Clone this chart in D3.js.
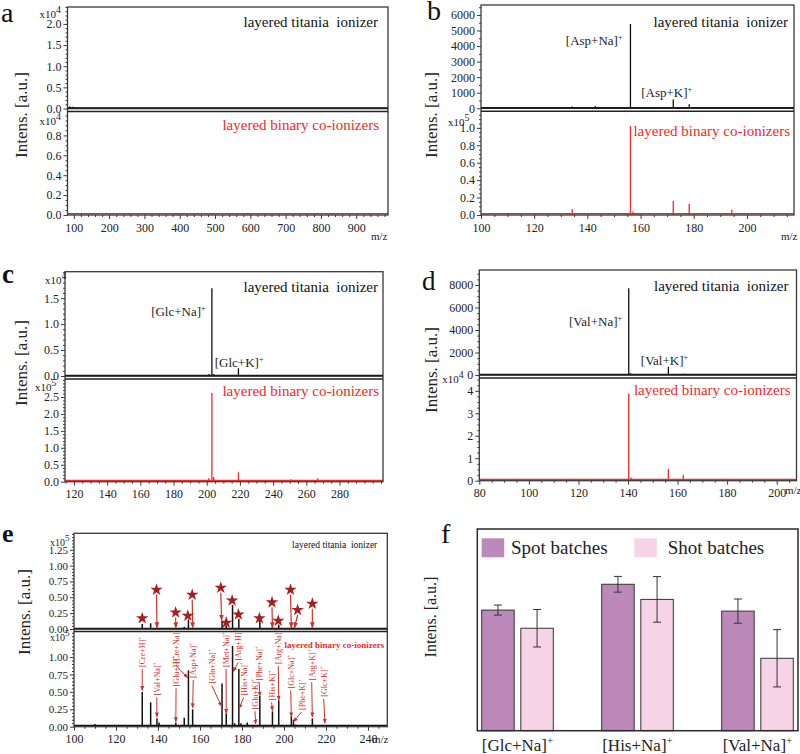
<!DOCTYPE html>
<html><head><meta charset="utf-8">
<script src="https://cdn.jsdelivr.net/npm/d3@7"></script>
<style>
body{margin:0;background:#fff;}
svg, svg text{font-family:'Liberation Serif','DejaVu Serif',serif;}
</style></head><body>
<svg id="chart" width="800" height="754"></svg>
<script>
// ================= DATA =================
// panel a (intensities in x10^4)
const aTopMz  = [88, 92, 97, 103, 110, 118, 130, 145, 250, 350, 450];
const aTopInt = [0.05, 0.03, 0.04, 0.03, 0.025, 0.02, 0.015, 0.01, 0.01, 0.01, 0.012];
const aBotMz  = [120, 160, 395, 590];
const aBotInt = [0.004, 0.004, 0.012, 0.015];
const aXTicks = [100, 200, 300, 400, 500, 600, 700, 800, 900];
const aTopTicks = [0, 0.5, 1.0, 1.5, 2.0];
const aBotTicks = [0, 0.2, 0.4, 0.6, 0.8];

// panel b (top raw counts, bottom x10^5)
const bTopMz  = [101, 106, 110, 134.3, 143, 144.5, 156.2, 157.2, 172.3, 178.3, 194.3];
const bTopInt = [70, 50, 40, 110, 140, 90, 5420, 90, 560, 260, 60];
const bBotMz  = [110, 134.3, 156.2, 157.2, 172.3, 178.3, 194.3];
const bBotInt = [0.012, 0.07, 1.02, 0.04, 0.16, 0.13, 0.06];
const bXTicks = [100, 120, 140, 160, 180, 200];
const bTopTicks = [0, 1000, 2000, 3000, 4000, 5000, 6000];
const bBotTicks = [0, 0.2, 0.4, 0.6, 0.8, 1.0];

// panel c (top x10^4, bottom x10^5)
const cTopMz  = [130, 145, 160, 185, 201.5, 203.1, 204.2, 219.1, 245, 266.9];
const cTopInt = [0.01, 0.01, 0.01, 0.01, 0.04, 1.69, 0.04, 0.15, 0.01, 0.02];
const cBotMz  = [127, 145, 159, 177, 201.2, 203.1, 204.2, 205, 219.1, 220, 237, 250.5, 252.5, 266.9];
const cBotInt = [0.02, 0.03, 0.02, 0.01, 0.1, 2.62, 0.14, 0.06, 0.28, 0.03, 0.02, 0.07, 0.03, 0.1];
const cXTicks = [120, 140, 160, 180, 200, 220, 240, 260, 280];
const cTopTicks = [0, 0.5, 1.0, 1.5];
const cBotTicks = [0, 0.5, 1.0, 1.5, 2.0, 2.5];

// panel d (top raw counts, bottom x10^4)
const dTopMz  = [95, 118.5, 140.3, 141, 144, 156.3, 162.3, 178];
const dTopInt = [40, 60, 7720, 150, 80, 730, 120, 40];
const dBotMz  = [81, 94.3, 108, 118.3, 140.3, 141.3, 144.3, 156.3, 162.3, 178.3, 195];
const dBotInt = [0.06, 0.08, 0.03, 0.07, 3.88, 0.14, 0.07, 0.52, 0.26, 0.04, 0.02];
const dXTicks = [80, 100, 120, 140, 160, 180, 200];
const dTopTicks = [0, 2000, 4000, 6000, 8000];
const dBotTicks = [0, 1, 2, 3, 4];

// panel e (x10^5)
const eTopMz  = [132.5, 136.5, 139.5, 148.5, 152.5, 154.5, 156.5, 170.5, 172.5, 175.5, 178.5, 188.5, 194.5, 197.5, 203.5, 204.5];
const eTopInt = [0.08, 0.09, 0.02, 0.01, 0.03, 0.15, 0.02, 0.13, 0.05, 0.38, 0.16, 0.13, 0.03, 0.07, 0.03, 0.02];
const eBotMz  = [110, 112, 114.5, 120, 130.5, 132.5, 136.5, 139.5, 140.5, 148.5, 150.5, 152.5, 154.5, 156.5, 158, 165, 167, 170.5, 172.5, 175.5, 176.5, 178.5, 179.5, 182.5, 186.5, 188.5, 190, 194.5, 197.5, 203.5, 204.5, 205.5, 213.5, 219.5];
const eBotInt = [0.04, 0.02, 0.02, 0.01, 0.01, 0.5, 0.35, 0.12, 0.06, 0.06, 0.02, 0.13, 0.81, 0.25, 0.02, 0.02, 0.02, 0.62, 0.19, 1.16, 0.05, 0.83, 0.05, 0.06, 0.01, 0.44, 0.02, 0.22, 0.38, 0.15, 0.10, 0.03, 0.12, 0.01];
const eXTicks = [100, 120, 140, 160, 180, 200, 220, 240];
const eTopTicks = [0, 0.25, 0.5, 0.75, 1.0, 1.25];
const eBotTicks = [0, 0.25, 0.5, 0.75, 1.0];
// starred peaks (top e)
const starMz  = [132.5, 139.3, 148.4, 154.2, 156.3, 169.9, 172.5, 175.3, 178.3, 188.3, 194.3, 197.3, 203.1, 206.5, 213.5];
const starVal = [0.17, 0.62, 0.26, 0.21, 0.54, 0.65, 0.10, 0.45, 0.23, 0.17, 0.42, 0.13, 0.62, 0.30, 0.40];
const starArrowMz  = [null, 139.5, 148.5, null, 156.5, 170.3, null, null, null, null, 194.5, null, 203.5, 205.0, 213.5];
const starArrowVal = [null, 0.02, 0.02, null, 0.02, 0.14, null, null, null, null, 0.02, null, 0.02, 0.02, 0.02];
// annotated peaks (bottom e)
const eLabNames = ["[Cre+H]", "[Val+Na]", "[Glu+H]", "[Cre+Na]", "[Asp+Na]", "[Gln+Na]", "[Met+Na]", "[Arg+H]", "[His+Na]", "[Glu+K]", "[Phe+Na]", "[His+K]", "[Arg+Na]", "[Glc+Na]", "[Phe+K]", "[Arg+K]", "[Glc+K]"];
const eLabMz    = [132.5, 139.4, 148.6, 148.6, 156.8, 165.6, 172.4, 178.2, 180.8, 186.2, 188.2, 194.1, 197.3, 203.2, 208.4, 213.2, 218.9];
const eLabBase  = [0.857, 0.45, 0.58, 0.906, 0.70, 0.62, 0.857, 0.95, 0.45, 0.25, 0.667, 0.38, 0.90, 0.55, 0.24, 0.667, 0.43];
const eArrowMz  = [132.5, 139.5, 148.5, 154.2, 156.5, 170.3, 172.5, 175.8, 178.6, 186.5, 188.5, 194.5, 197.5, 203.5, 204.5, 213.5, 219.5];
const eArrowVal = [0.52, 0.14, 0.07, 0.70, 0.27, 0.29, 0.19, 0.79, 0.26, 0.04, 0.44, 0.23, 0.38, 0.14, 0.07, 0.14, 0.05];

// panel f
const fGroups  = ["[Glc+Na]", "[His+Na]", "[Val+Na]"];
const fSeries  = ["Spot batches", "Shot batches"];
const fSpot    = [0.598, 0.726, 0.593];
const fSpotErr = [0.025, 0.039, 0.060];
const fShot    = [0.508, 0.651, 0.359];
const fShotErr = [0.093, 0.113, 0.142];

// ================= DRAWING =================
const svg = d3.select("#chart");
const FONT = "'Liberation Serif','DejaVu Serif',serif";
const RED = "#ee2a2a", FRAME = "#3a3a3a", LABRED = "#c8352f", STAR = "#a51f1f";

const defs = svg.append("defs");
defs.append("marker").attr("id", "arr").attr("viewBox", "0 0 10 10")
  .attr("refX", 9).attr("refY", 5).attr("markerWidth", 5).attr("markerHeight", 5)
  .attr("orient", "auto-start-reverse")
  .append("path").attr("d", "M0,1 L10,5 L0,9 z").attr("fill", LABRED);

function supText(sel, main, sup, supSize, dy) {
  sel.text(null);
  sel.append("tspan").text(main);
  sel.append("tspan").text(sup).attr("font-size", supSize).attr("dy", dy);
}

function styleAxis(ax, fs) {
  ax.attr("font-family", FONT).attr("font-size", fs);
  ax.select(".domain").remove();
  ax.selectAll(".tick line").attr("stroke", FRAME);
  ax.selectAll(".tick text").attr("fill", "#222").style("font-family", FONT);
}

function stems(g, x, y, mz, val, color, w) {
  g.append("g").selectAll("line").data(d3.zip(mz, val)).join("line")
    .attr("x1", d => x(d[0])).attr("x2", d => x(d[0]))
    .attr("y1", y(0)).attr("y2", d => y(d[1]))
    .attr("stroke", color).attr("stroke-width", w);
}

function minorVals(domain, step, majors) {
  const out = [];
  const s = Math.ceil(domain[0] / step - 1e-9), e = Math.floor(domain[1] / step + 1e-9);
  for (let i = s; i <= e; i++) {
    const v = +(i * step).toFixed(6);
    if (!majors.some(m => Math.abs(m - v) < 1e-6)) out.push(v);
  }
  return out;
}

function spectrum(c) {
  const g = svg.append("g");
  const x = d3.scaleLinear().domain(c.xDomain).range([c.left, c.right]);
  const yT = d3.scaleLinear().domain(c.topDomain).range([c.mid, c.top]);
  const yB = d3.scaleLinear().domain(c.botDomain).range([c.bottom, c.mid2]);
  const botColor = c.botColor || RED;

  // baselines (noise floor)
  g.append("line").attr("x1", c.left).attr("x2", c.right).attr("y1", yT(0) - 0.5).attr("y2", yT(0) - 0.5)
    .attr("stroke", "#111").attr("stroke-width", 1.5);
  g.append("line").attr("x1", c.left).attr("x2", c.right).attr("y1", yB(0) - 1.2).attr("y2", yB(0) - 1.2)
    .attr("stroke", botColor).attr("stroke-width", 1.6);

  stems(g, x, yT, c.topMz, c.topInt, "#111", c.stemW || 1.3);
  stems(g, x, yB, c.botMz, c.botInt, botColor, c.stemW || 1.3);

  // frame
  g.append("rect").attr("x", c.left).attr("y", c.top).attr("width", c.right - c.left)
    .attr("height", c.bottom - c.top).attr("fill", "none").attr("stroke", FRAME).attr("stroke-width", 1.3);
  g.append("line").attr("x1", c.left).attr("x2", c.right).attr("y1", c.mid).attr("y2", c.mid)
    .attr("stroke", "#222").attr("stroke-width", 1.6);
  g.append("line").attr("x1", c.left).attr("x2", c.right).attr("y1", c.mid2).attr("y2", c.mid2)
    .attr("stroke", "#222").attr("stroke-width", 1.6);

  // y axes
  const fsY = c.fsY || 12;
  const axT = g.append("g").attr("transform", `translate(${c.left},0)`)
    .call(d3.axisLeft(yT).tickValues(c.topTicks).tickSize(4).tickPadding(2).tickFormat(c.topFmt));
  styleAxis(axT, fsY);
  const axTm = g.append("g").attr("transform", `translate(${c.left},0)`)
    .call(d3.axisLeft(yT).tickValues(minorVals(c.topDomain, c.topMinor, c.topTicks)).tickSize(2).tickFormat(""));
  styleAxis(axTm, fsY);
  const axB = g.append("g").attr("transform", `translate(${c.left},0)`)
    .call(d3.axisLeft(yB).tickValues(c.botTicks).tickSize(4).tickPadding(2).tickFormat(c.botFmt));
  styleAxis(axB, fsY);
  const axBm = g.append("g").attr("transform", `translate(${c.left},0)`)
    .call(d3.axisLeft(yB).tickValues(minorVals(c.botDomain, c.botMinor, c.botTicks)).tickSize(2).tickFormat(""));
  styleAxis(axBm, fsY);

  // x axis
  const axX = g.append("g").attr("transform", `translate(0,${c.bottom})`)
    .call(d3.axisBottom(x).tickValues(c.xTicks).tickSize(4).tickPadding(4).tickFormat(d3.format("d")));
  styleAxis(axX, c.fsX || 12);
  const axXm = g.append("g").attr("transform", `translate(0,${c.bottom})`)
    .call(d3.axisBottom(x).tickValues(minorVals(c.xDomain, c.xMinor, c.xTicks)).tickSize(2).tickFormat(""));
  styleAxis(axXm, 12);

  // multipliers
  if (c.topMult) {
    const t = g.append("text").attr("x", c.left + c.multTop[0]).attr("y", c.top + c.multTop[1])
      .attr("font-size", c.multFs || 11).attr("fill", "#222");
    supText(t, "x10", c.topMult, (c.multFs || 11) * 0.9, -5);
  }
  if (c.botMult) {
    const t = g.append("text").attr("x", c.left + c.multBot[0]).attr("y", c.mid2 + c.multBot[1])
      .attr("font-size", c.multFs || 11).attr("fill", "#222");
    supText(t, "x10", c.botMult, (c.multFs || 11) * 0.9, -5);
  }
  if (c.mzLabel) {
    g.append("text").attr("x", c.mzLabel[0]).attr("y", c.mzLabel[1])
      .attr("font-size", 11).attr("fill", "#222").text("m/z");
  }

  // titles
  g.append("text").attr("x", c.right - c.t1[0]).attr("y", c.top + c.t1[1])
    .attr("text-anchor", "end").attr("font-size", c.t1fs || 15).attr("fill", "#111")
    .style("white-space", "pre").text("layered titania  ionizer");
  g.append("text").attr("x", c.right - c.t2[0]).attr("y", c.mid2 + c.t2[1])
    .attr("text-anchor", "end").attr("font-size", c.t2fs || 15).attr("fill", RED)
    .attr("font-weight", c.t2bold ? "bold" : "normal")
    .text("layered binary co-ionizers");

  // peak labels (top)
  (c.peakLabels || []).forEach(p => {
    const t = g.append("text").attr("x", x(p.mz)).attr("y", yT(p.v))
      .attr("text-anchor", p.anchor).attr("font-size", 13).attr("fill", "#222");
    supText(t, p.text, "+", 8, -5);
  });

  // y label
  g.append("text").attr("transform", `translate(${c.ylab[0]},${c.ylab[1]}) rotate(-90)`)
    .attr("text-anchor", "middle").attr("dominant-baseline", "middle")
    .attr("font-size", c.ylabFs || 17).attr("fill", "#222").text("Intens. [a.u.]");
  // panel letter
  g.append("text").attr("x", c.letter[0]).attr("y", c.letter[1]).attr("font-size", c.letter[2])
    .attr("font-weight", c.letter[3] ? "bold" : "normal").attr("fill", "#111").text(c.id);

  return {g, x, yT, yB};
}

const f1 = d3.format(".1f"), fd = d3.format("d"), f2 = d3.format(".2f");

// ---- a ----
spectrum({id: "a", left: 67.5, right: 388, top: 7, mid: 108.5, mid2: 111.5, bottom: 215,
  xDomain: [82, 990], xTicks: aXTicks, xMinor: 20,
  topDomain: [0, 2.4], topTicks: aTopTicks, topFmt: f1, topMinor: 0.1, topMult: "4", multTop: [-28, 11],
  botDomain: [0, 1.04], botTicks: aBotTicks, botFmt: f1, botMinor: 0.05, botMult: "4", multBot: [-28, 13],
  topMz: aTopMz, topInt: aTopInt, botMz: aBotMz, botInt: aBotInt,
  t1: [10, 20], t2: [9, 18], mzLabel: [371, 240], ylab: [23, 115], letter: [1, 22, 28, false]});

// ---- b ----
spectrum({id: "b", left: 481, right: 794, top: 5, mid: 108.3, mid2: 111.3, bottom: 215,
  xDomain: [100, 217.7], xTicks: bXTicks, xMinor: 5,
  topDomain: [0, 6640], topTicks: bTopTicks, topFmt: fd, topMinor: 500,
  botDomain: [0, 1.19], botTicks: bBotTicks, botFmt: f1, botMinor: 0.05, botMult: "5", multBot: [-33, 15],
  topMz: bTopMz, topInt: bTopInt, botMz: bBotMz, botInt: bBotInt,
  peakLabels: [{text: "[Asp+Na]", mz: 153.2, v: 4050, anchor: "end"},
               {text: "[Asp+K]", mz: 169.8, v: 730, anchor: "middle"}],
  t1: [6, 22], t2: [4, 25], mzLabel: [781, 240], ylab: [433, 115], letter: [427, 20, 28, false]});

// ---- c ----
spectrum({id: "c", left: 65, right: 383, top: 271.7, mid: 376, mid2: 379, bottom: 481.7,
  xDomain: [114.6, 306.2], xTicks: cXTicks, xMinor: 5,
  topDomain: [0, 2.01], topTicks: cTopTicks, topFmt: f1, topMinor: 0.1, topMult: "4", multTop: [-20, 12],
  botDomain: [0, 3.03], botTicks: cBotTicks, botFmt: f1, botMinor: 0.1, botMult: "5", multBot: [-30, 12],
  topMz: cTopMz, topInt: cTopInt, botMz: cBotMz, botInt: cBotInt,
  peakLabels: [{text: "[Glc+Na]", mz: 199.3, v: 1.15, anchor: "end"},
               {text: "[Glc+K]", mz: 219.5, v: 0.18, anchor: "middle"}],
  t1: [5, 20], t2: [4, 17], ylab: [23, 363], letter: [2, 283, 27, true]});

// ---- d ----
spectrum({id: "d", left: 479.3, right: 796.5, top: 270, mid: 375, mid2: 378, bottom: 480.7,
  xDomain: [80, 208], xTicks: dXTicks, xMinor: 5,
  topDomain: [0, 9333], topTicks: dTopTicks, topFmt: fd, topMinor: 500,
  botDomain: [0, 4.57], botTicks: dBotTicks, botFmt: fd, botMinor: 0.25, botMult: "4", multBot: [-37, 5],
  topMz: dTopMz, topInt: dTopInt, botMz: dBotMz, botInt: dBotInt,
  peakLabels: [{text: "[Val+Na]", mz: 137.6, v: 4350, anchor: "end"},
               {text: "[Val+K]", mz: 154.7, v: 880, anchor: "middle"}],
  t1: [8, 21], t2: [6, 17], mzLabel: [785, 494], ylab: [433, 370], letter: [422, 290, 27, false]});

// ---- e ----
const E = spectrum({id: "e", left: 74, right: 387.3, top: 533.3, mid: 629, mid2: 631.5, bottom: 726.7,
  xDomain: [100, 249.2], xTicks: eXTicks, xMinor: 5, fsY: 11,
  topDomain: [0, 1.51], topTicks: eTopTicks, topFmt: f2, topMinor: 0.05, topMult: "5", multTop: [-24, 13],
  botDomain: [0, 1.367], botTicks: eBotTicks, botFmt: f2, botMinor: 0.05, botMult: "5", multBot: [-24, 9],
  multFs: 10,
  topMz: eTopMz, topInt: eTopInt, botMz: eBotMz, botInt: eBotInt, botColor: "#111", stemW: 1.5,
  t1: [10, 15], t1fs: 9.5, t2: [3, 16], t2fs: 9, t2bold: true,
  mzLabel: [372, 743], ylab: [26, 612], letter: [2, 542, 26, true]});

// stars and arrows in top e
const stars = d3.range(starMz.length).map(i => ({mz: starMz[i], v: starVal[i], amz: starArrowMz[i], av: starArrowVal[i]}));
E.g.append("g").selectAll("line").data(stars.filter(s => s.amz !== null)).join("line")
  .attr("x1", d => E.x(d.mz)).attr("y1", d => E.yT(d.v) + 5)
  .attr("x2", d => E.x(d.amz)).attr("y2", d => E.yT(d.av))
  .attr("stroke", LABRED).attr("stroke-width", 1.2).attr("marker-end", "url(#arr)");
E.g.append("g").selectAll("path").data(stars).join("path")
  .attr("transform", d => `translate(${E.x(d.mz)},${E.yT(d.v)})`)
  .attr("d", d3.symbol(d3.symbolStar, 48)).attr("fill", STAR);

// annotated labels in bottom e
const eLabs = d3.range(eLabNames.length).map(i => ({name: eLabNames[i], mz: eLabMz[i], base: eLabBase[i], amz: eArrowMz[i], av: eArrowVal[i]}));
E.g.append("g").selectAll("line").data(eLabs).join("line")
  .attr("x1", d => E.x(d.mz)).attr("y1", d => E.yB(d.base) + 2)
  .attr("x2", d => E.x(d.amz)).attr("y2", d => E.yB(d.av))
  .attr("stroke", LABRED).attr("stroke-width", 1).attr("marker-end", "url(#arr)");
E.g.append("g").selectAll("text").data(eLabs).join("text")
  .attr("transform", d => `translate(${E.x(d.mz) + 3},${E.yB(d.base)}) rotate(-90)`)
  .attr("font-size", 8).attr("fill", LABRED)
  .each(function(d) { supText(d3.select(this), d.name, "+", 5.5, -3); });

// ---- f ----
(function() {
  const left = 477.3, right = 798, top = 529, bottom = 730.7;
  const g = svg.append("g");
  const x0 = d3.scaleBand().domain(fGroups).range([457.5, 817.5]);
  const x1 = d3.scaleBand().domain(fSeries).range([-35.8, 35.8]).paddingInner(0.17);
  const y = d3.scaleLinear().domain([0, 1]).range([bottom, top]);
  const colors = {"Spot batches": "#bd89bb", "Shot batches": "#f6d3e6"};
  const rows = [];
  fGroups.forEach((grp, i) => {
    rows.push({grp, s: fSeries[0], v: fSpot[i], e: fSpotErr[i]});
    rows.push({grp, s: fSeries[1], v: fShot[i], e: fShotErr[i]});
  });
  const cx = d => x0(d.grp) + x0.bandwidth() / 2 + x1(d.s);
  g.append("g").selectAll("rect").data(rows).join("rect")
    .attr("x", cx).attr("width", x1.bandwidth())
    .attr("y", d => y(d.v)).attr("height", d => y(0) - y(d.v))
    .attr("fill", d => colors[d.s]).attr("stroke", "#333").attr("stroke-width", 1);
  const eb = g.append("g").attr("stroke", "#333").attr("stroke-width", 1);
  rows.forEach(d => {
    const xc = cx(d) + x1.bandwidth() / 2;
    eb.append("line").attr("x1", xc).attr("x2", xc).attr("y1", y(d.v + d.e)).attr("y2", y(d.v - d.e));
    eb.append("line").attr("x1", xc - 4).attr("x2", xc + 4).attr("y1", y(d.v + d.e)).attr("y2", y(d.v + d.e));
    eb.append("line").attr("x1", xc - 4).attr("x2", xc + 4).attr("y1", y(d.v - d.e)).attr("y2", y(d.v - d.e));
  });
  g.append("rect").attr("x", left).attr("y", top).attr("width", right - left).attr("height", bottom - top)
    .attr("fill", "none").attr("stroke", "#2a2a2a").attr("stroke-width", 1.5);
  // legend
  const lg = [[481.7, 511], [634.3, 667.7]];
  fSeries.forEach((s, i) => {
    g.append("rect").attr("x", lg[i][0]).attr("y", 538.3).attr("width", 22.5).attr("height", 19)
      .attr("fill", colors[s]);
    g.append("text").attr("x", lg[i][1]).attr("y", 554).attr("font-size", 19).attr("fill", "#222").text(s);
  });
  // category labels
  fGroups.forEach(grp => {
    const t = g.append("text").attr("x", x0(grp) + x0.bandwidth() / 2).attr("y", 751)
      .attr("text-anchor", "middle").attr("font-size", 17).attr("fill", "#222");
    supText(t, grp, "+", 11, -7);
  });
  g.append("text").attr("transform", "translate(432,617) rotate(-90)")
    .attr("text-anchor", "middle").attr("dominant-baseline", "middle")
    .attr("font-size", 16).attr("fill", "#222").text("Intens. [a.u.]");
  g.append("text").attr("x", 441).attr("y", 543).attr("font-size", 28).attr("fill", "#111").text("f");
})();
</script>
</body></html>
